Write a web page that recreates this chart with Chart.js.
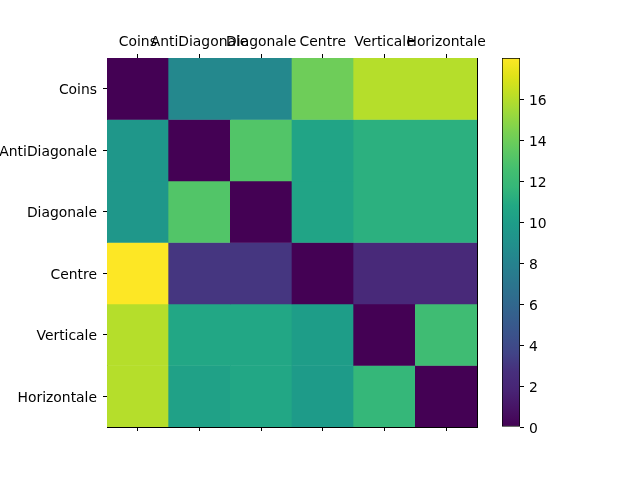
<!DOCTYPE html>
<html>
<head>
<meta charset="utf-8">
<script src="https://cdn.jsdelivr.net/npm/chart.js@4/dist/chart.umd.min.js"></script>
<style>
  body { margin: 0; background: #fff; }
  #wrap { position: relative; width: 640px; height: 480px; }
  canvas { position: absolute; left: 0; top: 0; }
</style>
</head>
<body>
<div id="wrap">
  <canvas id="heat" width="640" height="480"></canvas>
  <canvas id="cbar" width="640" height="480"></canvas>
</div>
<script>
// categories (same for rows and columns)
const labels = ['Coins', 'AntiDiagonale', 'Diagonale', 'Centre', 'Verticale', 'Horizontale'];

// one array per row
const coins = [0, 8.4, 8.4, 14.0, 16.0, 16.0];
const antiDiagonale = [9.5, 0, 13.1, 10.5, 11.25, 11.25];
const diagonale = [9.5, 13.1, 0, 10.5, 11.25, 11.25];
const centre = [18, 3.0, 3.0, 0, 2.2, 2.2];
const verticale = [16.0, 10.7, 10.7, 10.0, 0, 12.3];
const horizontale = [16.0, 10.3, 10.7, 9.8, 11.7, 0];

// colorbar ticks
const cbarTicks = [0, 2, 4, 6, 8, 10, 12, 14, 16];

const matrix = [coins, antiDiagonale, diagonale, centre, verticale, horizontale];
const vmax = Math.max(...matrix.flat());

// viridis, sampled every 0.05
const viridis = [
  '#440154', '#471365', '#482475', '#472f7d', '#414487', '#3b528b', '#355f8d',
  '#2f6c8e', '#2a788e', '#25848e', '#21918c', '#1e9c89', '#22a884', '#35b779',
  '#44bf70', '#5ec962', '#7ad151', '#9bd93c', '#bddf26', '#dfe318', '#fde725',
];

const hex = (h) => [1, 3, 5].map((i) => parseInt(h.slice(i, i + 2), 16));

const colorFor = (v) => {
  const t = Math.min(Math.max(v / vmax, 0), 1) * (viridis.length - 1);
  const i = Math.min(Math.floor(t), viridis.length - 2);
  const f = t - i;
  const a = hex(viridis[i]);
  const b = hex(viridis[i + 1]);
  const c = a.map((x, k) => Math.round(x + (b[k] - x) * f));
  return `rgb(${c[0]},${c[1]},${c[2]})`;
};

const font = { family: 'DejaVu Sans', size: 13.9 };
const tickGrid = {
  offset: false,
  drawOnChartArea: false,
  drawTicks: true,
  tickLength: 4,
  color: '#000',
};

// CHART 1 - HEATMAP (floating bars, one dataset per row)
const heatDatasets = matrix.map((row, r) => ({
  label: labels[r],
  data: row.map(() => [r, r + 1]),
  backgroundColor: row.map(colorFor),
  borderWidth: 0,
  barPercentage: 1,
  categoryPercentage: 1,
  grouped: false,
  xAxisID: 'x',
  yAxisID: 'y',
}));

new Chart('heat', {
  type: 'bar',
  data: { labels: labels, datasets: heatDatasets },
  options: {
    responsive: false,
    animation: false,
    layout: { padding: 0 },
    plugins: { legend: { display: false }, tooltip: { enabled: false } },
    scales: {
      x: {
        type: 'category',
        position: 'top',
        offset: true,
        grid: tickGrid,
        border: { color: '#000', width: 1 },
        ticks: { autoSkip: false, maxRotation: 0, minRotation: 0, color: '#000', font, padding: 3 },
        afterFit: (s) => { s.height = 58; },
      },
      x2: {
        type: 'category',
        position: 'bottom',
        offset: true,
        grid: tickGrid,
        border: { color: '#000', width: 1 },
        ticks: { autoSkip: false, maxRotation: 0, minRotation: 0, callback: () => '' },
        afterFit: (s) => { s.height = 53; },
      },
      y: {
        type: 'linear',
        position: 'left',
        reverse: true,
        min: 0,
        max: labels.length,
        grid: tickGrid,
        border: { color: '#000', width: 1 },
        afterBuildTicks: (s) => { s.ticks = labels.map((_, i) => ({ value: i + 0.5 })); },
        ticks: { color: '#000', font, padding: 6, labelOffset: 2, callback: (v) => labels[Math.floor(v)] },
        afterFit: (s) => { s.width = 107; },
      },
      y2: {
        type: 'linear',
        position: 'right',
        min: 0,
        max: labels.length,
        grid: { display: false },
        border: { display: true, color: '#000', width: 1 },
        ticks: { display: false },
        afterFit: (s) => { s.width = 163; },
      },
    },
  },
});

// CHART 2 - COLORBAR (one floating bar filled with the colormap)
const gradientFill = (ctx) => {
  const area = ctx.chart.chartArea;
  if (!area) return viridis[0];
  const g = ctx.chart.ctx.createLinearGradient(0, area.bottom, 0, area.top);
  viridis.forEach((c, i) => g.addColorStop(i / (viridis.length - 1), c));
  return g;
};

new Chart('cbar', {
  type: 'bar',
  data: {
    labels: [''],
    datasets: [{
      data: [[0, vmax]],
      backgroundColor: gradientFill,
      borderColor: '#000',
      borderWidth: 1,
      borderSkipped: false,
      barPercentage: 1,
      categoryPercentage: 1,
    }],
  },
  options: {
    responsive: false,
    animation: false,
    layout: { padding: { left: 502, top: 58, bottom: 53, right: 0 } },
    plugins: { legend: { display: false }, tooltip: { enabled: false } },
    scales: {
      x: { display: false },
      y: {
        type: 'linear',
        position: 'right',
        min: 0,
        max: vmax,
        grid: { drawOnChartArea: false, drawTicks: true, tickLength: 4, color: '#000' },
        border: { display: false },
        afterBuildTicks: (s) => { s.ticks = cbarTicks.map((v) => ({ value: v })); },
        ticks: { color: '#000', font, padding: 5, labelOffset: 2 },
        afterFit: (s) => { s.width = 120; },
      },
    },
  },
});
</script>
</body>
</html>
